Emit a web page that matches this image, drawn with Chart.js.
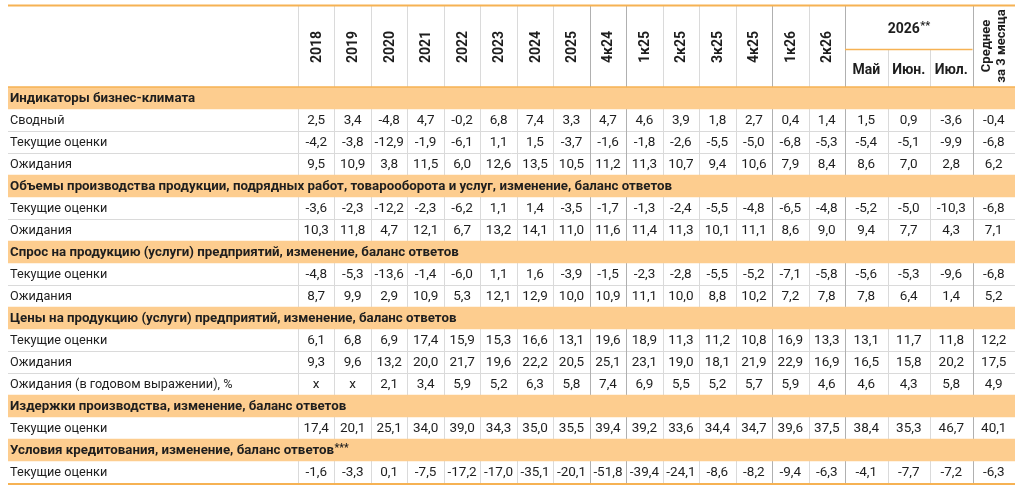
<!DOCTYPE html>
<html lang="ru">
<head>
<meta charset="utf-8">
<title>Индикаторы бизнес-климата</title>
<script src="https://cdn.jsdelivr.net/npm/chart.js@4.4.1/dist/chart.umd.min.js"></script>
<style>
  html, body { margin: 0; padding: 0; background: #fff; }
  #wrap { width: 1024px; height: 486px; position: relative; }
</style>
</head>
<body>
<div id="wrap"><canvas id="tableChart"></canvas></div>
<script>
// --- заголовки столбцов ---
const yearColumns = ['2018', '2019', '2020', '2021', '2022', '2023', '2024', '2025'];
const quarterColumns = ['4к24', '1к25', '2к25', '3к25', '4к25', '1к26', '2к26'];
const monthColumns = ['Май', 'Июн.', 'Июл.'];
const monthGroupLabel = '2026**';
const avgColumnLabel = ['Среднее', 'за 3 месяца'];

// --- строки таблицы (null в rowValues = строка-раздел) ---
const rowLabels = [
  'Индикаторы бизнес-климата',
  'Сводный',
  'Текущие оценки',
  'Ожидания',
  'Объемы производства продукции, подрядных работ, товарооборота и услуг, изменение, баланс ответов',
  'Текущие оценки',
  'Ожидания',
  'Спрос на продукцию (услуги) предприятий, изменение, баланс ответов',
  'Текущие оценки',
  'Ожидания',
  'Цены на продукцию (услуги) предприятий, изменение, баланс ответов',
  'Текущие оценки',
  'Ожидания',
  'Ожидания (в годовом выражении), %',
  'Издержки производства, изменение, баланс ответов',
  'Текущие оценки',
  'Условия кредитования, изменение, баланс ответов***',
  'Текущие оценки'
];

// значения: 8 лет, 7 кварталов, 3 месяца, среднее
const climateTotal    = [2.5, 3.4, -4.8, 4.7, -0.2, 6.8, 7.4, 3.3,  4.7, 4.6, 3.9, 1.8, 2.7, 0.4, 1.4,  1.5, 0.9, -3.6,  -0.4];
const climateCurrent  = [-4.2, -3.8, -12.9, -1.9, -6.1, 1.1, 1.5, -3.7,  -1.6, -1.8, -2.6, -5.5, -5.0, -6.8, -5.3,  -5.4, -5.1, -9.9,  -6.8];
const climateExpect   = [9.5, 10.9, 3.8, 11.5, 6.0, 12.6, 13.5, 10.5,  11.2, 11.3, 10.7, 9.4, 10.6, 7.9, 8.4,  8.6, 7.0, 2.8,  6.2];
const outputCurrent   = [-3.6, -2.3, -12.2, -2.3, -6.2, 1.1, 1.4, -3.5,  -1.7, -1.3, -2.4, -5.5, -4.8, -6.5, -4.8,  -5.2, -5.0, -10.3,  -6.8];
const outputExpect    = [10.3, 11.8, 4.7, 12.1, 6.7, 13.2, 14.1, 11.0,  11.6, 11.4, 11.3, 10.1, 11.1, 8.6, 9.0,  9.4, 7.7, 4.3,  7.1];
const demandCurrent   = [-4.8, -5.3, -13.6, -1.4, -6.0, 1.1, 1.6, -3.9,  -1.5, -2.3, -2.8, -5.5, -5.2, -7.1, -5.8,  -5.6, -5.3, -9.6,  -6.8];
const demandExpect    = [8.7, 9.9, 2.9, 10.9, 5.3, 12.1, 12.9, 10.0,  10.9, 11.1, 10.0, 8.8, 10.2, 7.2, 7.8,  7.8, 6.4, 1.4,  5.2];
const pricesCurrent   = [6.1, 6.8, 6.9, 17.4, 15.9, 15.3, 16.6, 13.1,  19.6, 18.9, 11.3, 11.2, 10.8, 16.9, 13.3,  13.1, 11.7, 11.8,  12.2];
const pricesExpect    = [9.3, 9.6, 13.2, 20.0, 21.7, 19.6, 22.2, 20.5,  25.1, 23.1, 19.0, 18.1, 21.9, 22.9, 16.9,  16.5, 15.8, 20.2,  17.5];
const pricesExpectYoY = [null, null, 2.1, 3.4, 5.9, 5.2, 6.3, 5.8,  7.4, 6.9, 5.5, 5.2, 5.7, 5.9, 4.6,  4.6, 4.3, 5.8,  4.9];
const costsCurrent    = [17.4, 20.1, 25.1, 34.0, 39.0, 34.3, 35.0, 35.5,  39.4, 39.2, 33.6, 34.4, 34.7, 39.6, 37.5,  38.4, 35.3, 46.7,  40.1];
const creditCurrent   = [-1.6, -3.3, 0.1, -7.5, -17.2, -17.0, -35.1, -20.1,  -51.8, -39.4, -24.1, -8.6, -8.2, -9.4, -6.3,  -4.1, -7.7, -7.2,  -6.3];

const rowValues = [
  null, climateTotal, climateCurrent, climateExpect,
  null, outputCurrent, outputExpect,
  null, demandCurrent, demandExpect,
  null, pricesCurrent, pricesExpect, pricesExpectYoY,
  null, costsCurrent,
  null, creditCurrent
];

// --- разметка ---
const LABEL_W = 290;
const COL_W = 36.47;
const MONTH_W = 42.5;
const colWidths = [
  ...yearColumns.map(() => COL_W),
  ...quarterColumns.map(() => COL_W),
  ...monthColumns.map(() => MONTH_W),
  MONTH_W
];
const colEdges = [LABEL_W];
colWidths.forEach(w => colEdges.push(colEdges[colEdges.length - 1] + w));
const X_MAX = colEdges[colEdges.length - 1];
const colCenters = colWidths.map((w, i) => colEdges[i] + w / 2);
// после каких столбцов линия темнее
const strongAfter = [7, 8, 12, 14, 17];

const FONT = "Roboto, 'Noto Sans', sans-serif";
const LABEL_SIZE = 12.7;
const SECTION_SIZE = 13.3;
const VALUE_SIZE = 13.5;
const TEXT_COLOR = '#1e1e1e';
const BAND_COLOR = '#FDCD8F';
const ORANGE_LINE = '#F6B253';
const GRID_LIGHT = '#dadada';
const GRID_STRONG = '#b0b0b0';
const HEADER_TOP = 5;

function fmt(v) {
  if (v === null || v === undefined) return 'x';
  return v.toFixed(1).replace('.', ',');
}

// текст со звёздочками-сносками
function drawWithStars(ctx, text, x, y, size, weight, align) {
  const m = text.match(/^(.*?)(\*+)$/);
  const main = m ? m[1] : text;
  const stars = m ? m[2] : '';
  ctx.font = weight + ' ' + size + 'px ' + FONT;
  const mainW = ctx.measureText(main).width;
  ctx.font = weight + ' ' + (size - 3) + 'px ' + FONT;
  const starW = ctx.measureText(stars).width;
  let start = x;
  if (align === 'center') start = x - (mainW + starW) / 2;
  ctx.textAlign = 'left';
  ctx.font = weight + ' ' + size + 'px ' + FONT;
  ctx.fillText(main, start, y);
  if (stars) {
    ctx.font = weight + ' ' + (size - 3) + 'px ' + FONT;
    ctx.fillText(stars, start + mainW + 0.5, y - 3);
  }
}

function vline(ctx, x, y1, y2, color) {
  ctx.strokeStyle = color;
  ctx.lineWidth = 1;
  ctx.beginPath();
  ctx.moveTo(Math.round(x) + 0.5, y1);
  ctx.lineTo(Math.round(x) + 0.5, y2);
  ctx.stroke();
}

function hline(ctx, x1, x2, y, color, width) {
  ctx.strokeStyle = color;
  ctx.lineWidth = width || 1;
  ctx.beginPath();
  ctx.moveTo(x1, y);
  ctx.lineTo(x2, y);
  ctx.stroke();
}

const tablePlugin = {
  id: 'tablePlugin',
  beforeDatasetsDraw(chart) {
    const { ctx, chartArea, scales: { x, y } } = chart;
    ctx.save();
    const half = (y.getPixelForValue(1) - y.getPixelForValue(0)) / 2;
    // горизонтальные линии между строками данных
    for (let i = 1; i < rowLabels.length; i++) {
      if (rowValues[i] && rowValues[i - 1]) {
        const yy = Math.round(y.getPixelForValue(i) - half) + 0.5;
        hline(ctx, chartArea.left, chartArea.right, yy, GRID_LIGHT);
      }
    }
    // вертикальные линии
    colEdges.slice(0, -1).forEach((e, i) => {
      const color = strongAfter.includes(i - 1) ? GRID_STRONG : GRID_LIGHT;
      vline(ctx, x.getPixelForValue(e), chartArea.top, chartArea.bottom, color);
    });
    ctx.restore();
  },
  afterDatasetsDraw(chart) {
    const { ctx, chartArea, scales: { x, y } } = chart;
    ctx.save();
    ctx.fillStyle = TEXT_COLOR;
    ctx.textBaseline = 'middle';

    // подписи строк и значения
    rowLabels.forEach((label, i) => {
      const yy = y.getPixelForValue(i) + 1;
      const vals = rowValues[i];
      if (!vals) {
        drawWithStars(ctx, label, chartArea.left + 2, yy, SECTION_SIZE, 'bold', 'left');
        return;
      }
      ctx.font = LABEL_SIZE + 'px ' + FONT;
      ctx.textAlign = 'left';
      ctx.fillText(label, chartArea.left + 2, yy);
      ctx.font = VALUE_SIZE + 'px ' + FONT;
      ctx.textAlign = 'center';
      vals.forEach((v, j) => {
        ctx.fillText(fmt(v), x.getPixelForValue(colCenters[j]), yy);
      });
    });

    // шапка
    const hTop = HEADER_TOP;
    const hBot = chartArea.top;
    const hMid = (hTop + hBot) / 2 + 1;
    const monthStart = yearColumns.length + quarterColumns.length;
    const groupLineY = 49;

    colEdges.slice(0, -1).forEach((e, i) => {
      const inMonths = i > monthStart && i < monthStart + monthColumns.length;
      const color = strongAfter.includes(i - 1) ? GRID_STRONG : GRID_LIGHT;
      vline(ctx, x.getPixelForValue(e), inMonths ? groupLineY : hTop, hBot, color);
    });

    ctx.font = 'bold 14px ' + FONT;
    ctx.textAlign = 'center';
    [...yearColumns, ...quarterColumns].forEach((lbl, i) => {
      ctx.save();
      ctx.translate(x.getPixelForValue(colCenters[i]) + 1, hMid);
      ctx.rotate(-Math.PI / 2);
      ctx.fillText(lbl, 0, 0);
      ctx.restore();
    });

    const mx1 = x.getPixelForValue(colEdges[monthStart]);
    const mx2 = x.getPixelForValue(colEdges[monthStart + monthColumns.length]);
    drawWithStars(ctx, monthGroupLabel, (mx1 + mx2) / 2, 29, 14, 'bold', 'center');
    hline(ctx, mx1, mx2, groupLineY + 0.5, ORANGE_LINE, 1.5);
    ctx.font = 'bold 14px ' + FONT;
    ctx.textAlign = 'center';
    monthColumns.forEach((lbl, k) => {
      ctx.fillText(lbl, x.getPixelForValue(colCenters[monthStart + k]), 70);
    });

    const avgIdx = colCenters.length - 1;
    const ax = x.getPixelForValue(colCenters[avgIdx]);
    ctx.font = 'bold 13px ' + FONT;
    avgColumnLabel.forEach((lbl, k) => {
      ctx.save();
      ctx.translate(ax - 7 + k * 15, hMid - 1);
      ctx.rotate(-Math.PI / 2);
      ctx.fillText(lbl, 0, 0);
      ctx.restore();
    });

    // оранжевые границы
    hline(ctx, chartArea.left, chartArea.right, hTop + 0.5, ORANGE_LINE, 2);
    hline(ctx, chartArea.left, chartArea.right, hBot, ORANGE_LINE, 1.5);
    hline(ctx, chartArea.left, chartArea.right, chartArea.bottom + 1, ORANGE_LINE, 2);
    ctx.restore();
  }
};

const ctx = document.getElementById('tableChart').getContext('2d');
const tableChart = new Chart(ctx, {
  type: 'bar',
  data: {
    labels: rowLabels.map((l, i) => i),
    datasets: [{
      label: 'Разделы',
      data: rowValues.map(v => (v ? null : [0, X_MAX])),
      backgroundColor: BAND_COLOR,
      borderWidth: 0,
      barPercentage: 1,
      categoryPercentage: 1
    }]
  },
  options: {
    indexAxis: 'y',
    responsive: true,
    maintainAspectRatio: false,
    animation: false,
    layout: { padding: { left: 8, right: 9, top: 87, bottom: 3 } },
    scales: {
      x: { type: 'linear', min: 0, max: X_MAX, display: false },
      y: { type: 'category', display: false, offset: true }
    },
    plugins: {
      legend: { display: false },
      tooltip: { enabled: false }
    }
  },
  plugins: [tablePlugin]
});
</script>
</body>
</html>
